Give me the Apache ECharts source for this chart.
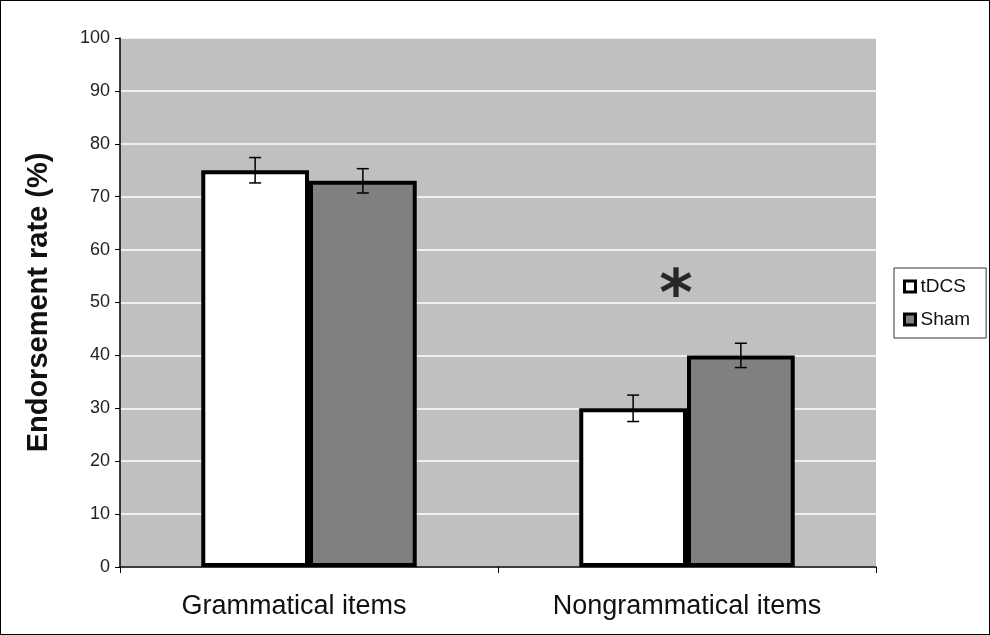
<!DOCTYPE html>
<html><head><meta charset="utf-8">
<script src="https://cdn.jsdelivr.net/npm/echarts@6/dist/echarts.min.js"></script>
<style>html,body{margin:0;padding:0;background:#fff}#c{width:990px;height:635px;box-sizing:border-box;border:1px solid #000}</style>
</head><body><div id="c"></div>
<script>
const categories = ['Grammatical items', 'Nongrammatical items'];
const seriesNames = ['tDCS', 'Sham'];
const tdcsValues = [75, 30];
const shamValues = [73, 40];
const tdcsErr = [2.4, 2.5];
const shamErr = [2.3, 2.3];
const yTicks = [0, 10, 20, 30, 40, 50, 60, 70, 80, 90, 100];
const annotation = { category: 'Nongrammatical items', value: 53, text: '*' };

const chart = echarts.init(document.getElementById('c'));
const font = 'Liberation Sans, Arial, sans-serif';
const catGap = 0.43;
function errSeries(vals, errs, idx) {
  return {
    type: 'custom', z: 5, silent: true,
    data: vals.map((v, i) => [i, v - errs[i], v + errs[i]]),
    renderItem: function (params, api) {
      const band = api.size([1, 0])[0];
      const bw = band * (1 - catGap) / 2;
      const off = (idx === 0 ? -0.5 : 0.5) * bw;
      const lo = api.coord([api.value(0), api.value(1)]);
      const hi = api.coord([api.value(0), api.value(2)]);
      const x = lo[0] + off;
      const w = 6;
      const st = { stroke: '#000', lineWidth: 1.5 };
      return { type: 'group', children: [
        { type: 'line', shape: { x1: x, y1: lo[1], x2: x, y2: hi[1] }, style: st },
        { type: 'line', shape: { x1: x - w, y1: lo[1], x2: x + w, y2: lo[1] }, style: st },
        { type: 'line', shape: { x1: x - w, y1: hi[1], x2: x + w, y2: hi[1] }, style: st }
      ]};
    }
  };
}
chart.setOption({
  animation: false,
  textStyle: { fontFamily: font },
  grid: { left: 119, right: 113, top: 37, bottom: 67, show: true, backgroundColor: '#c0c0c0', borderWidth: 0 },
  legend: {
    orient: 'vertical', left: 893, top: 267,
    backgroundColor: '#fff', borderColor: '#333', borderWidth: 1,
    padding: [9, 16, 9, 9], itemGap: 14, itemWidth: 11, itemHeight: 11,
    itemStyle: { borderColor: '#000', borderWidth: 3 },
    textStyle: { fontSize: 19, color: '#111', fontFamily: font },
    data: seriesNames.map(n => ({ name: n, icon: 'rect' }))
  },
  xAxis: {
    type: 'category', data: categories,
    axisLine: { lineStyle: { color: '#000', width: 1.5 } },
    axisTick: { show: true, length: 6, interval: 0, lineStyle: { color: '#000' } },
    axisLabel: { interval: 0, hideOverlap: false, fontSize: 27, color: '#111', margin: 26, fontFamily: font,
      formatter: (v, i) => i === 0 ? '{g|' + v + '}' : '{n|' + v + '}',
      rich: { g: { fontSize: 27, color: '#111', padding: [0, 30, 0, 0] },
              n: { fontSize: 27, color: '#111' } } }
  },
  yAxis: {
    type: 'value', min: yTicks[0], max: yTicks[yTicks.length - 1], interval: 10,
    name: 'Endorsement rate (%)', nameLocation: 'middle', nameGap: 67,
    nameTextStyle: { fontSize: 29, fontWeight: 'bold', color: '#111', fontFamily: font },
    axisLine: { show: true, lineStyle: { color: '#000', width: 1.5 } },
    axisTick: { show: true, length: 5, lineStyle: { color: '#000' } },
    axisLabel: { fontSize: 18, color: '#222', margin: 10, fontFamily: font },
    splitLine: { lineStyle: { color: '#fff', width: 1.5 } }
  },
  series: [
    { name: seriesNames[0], type: 'bar', data: tdcsValues, barGap: '0%', barCategoryGap: '43%',
      itemStyle: { color: '#fff', borderColor: '#000', borderWidth: 4 } },
    { name: seriesNames[1], type: 'bar', data: shamValues, barGap: '0%', barCategoryGap: '43%',
      itemStyle: { color: '#808080', borderColor: '#000', borderWidth: 4 } },
    errSeries(tdcsValues, tdcsErr, 0),
    errSeries(shamValues, shamErr, 1),
    { type: 'scatter', silent: true, symbolSize: 0, z: 6,
      data: [[annotation.category, annotation.value]],
      label: { show: true, formatter: annotation.text, position: 'inside', offset: [-11, 12],
        fontSize: 64, fontWeight: 'bold', color: '#000', fontFamily: 'DejaVu Sans' } }
  ]
});
</script></body></html>
